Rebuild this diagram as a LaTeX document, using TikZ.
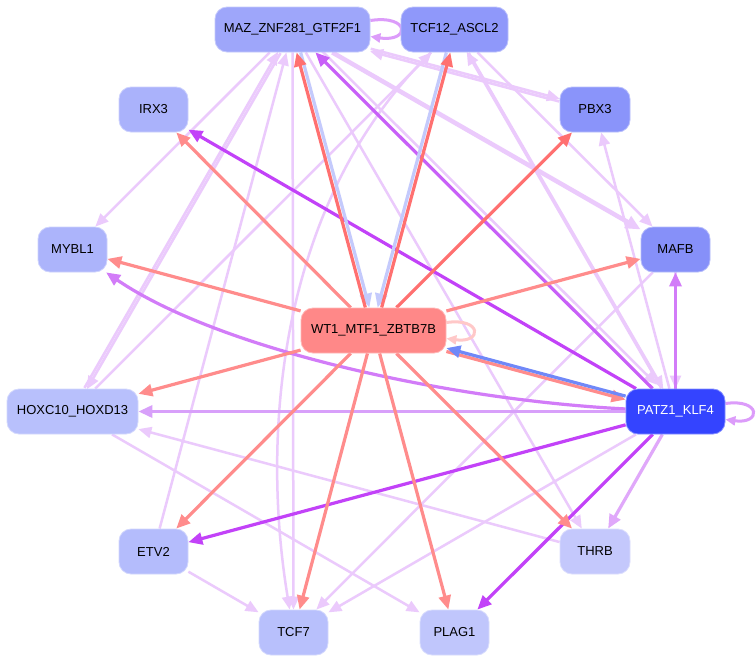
\documentclass[tikz,border=0pt]{standalone}
\usepackage{fontspec}
\setmainfont{Liberation Sans}
\usetikzlibrary{arrows.meta,backgrounds}
\definecolor{cMAZ}{RGB}{158,166,250}
\definecolor{cTCFa}{RGB}{143,152,250}
\definecolor{cIRX}{RGB}{170,178,251}
\definecolor{cPBX}{RGB}{138,148,250}
\definecolor{cMYB}{RGB}{172,180,251}
\definecolor{cMAF}{RGB}{134,144,249}
\definecolor{cWT}{RGB}{255,136,136}
\definecolor{cHOX}{RGB}{184,192,252}
\definecolor{cPAT}{RGB}{52,68,255}
\definecolor{cETV}{RGB}{180,188,252}
\definecolor{cTHR}{RGB}{196,200,252}
\definecolor{cTCFb}{RGB}{184,192,252}
\definecolor{cPLA}{RGB}{192,198,252}
\definecolor{eLil}{RGB}{235,202,252}
\definecolor{eMed}{RGB}{210,124,248}
\definecolor{eMedD}{RGB}{200,96,248}
\definecolor{eHox}{RGB}{216,160,250}
\definecolor{eThr}{RGB}{224,168,250}
\definecolor{eDark}{RGB}{194,66,248}
\definecolor{eSal}{RGB}{255,140,140}
\definecolor{eRed}{RGB}{255,112,112}
\definecolor{eLB}{RGB}{196,202,252}
\definecolor{eBlue}{RGB}{112,136,248}
\definecolor{ePink}{RGB}{255,200,200}
\definecolor{eLoop}{RGB}{220,156,250}
\begin{document}
\begin{tikzpicture}[x=1pt,y=-1pt,
  nd/.style={rounded corners=12pt, minimum height=45pt, inner sep=0pt,
    font=\fontsize{13}{15}\selectfont, draw=#1!60!white, fill=#1, line width=0.8pt},
  lil/.style={draw=eLil, line width=2.5pt, -{Triangle[length=13pt,width=11pt]}},
  lilthick/.style={draw=eLil, line width=4.5pt, -{Triangle[length=15pt,width=13pt]}},
  ed/.style={draw=#1, line width=3.2pt, -{Triangle[length=14pt,width=12pt]}},
  selfloop/.style={draw=#1, line width=3pt, -{Triangle[length=10pt,width=9pt]}}
]
\useasboundingbox (0,0) rectangle (756,662);

% nodes
\node[nd=cMAZ, minimum width=155pt] (maz) at (292.5,29.5) {MAZ\_ZNF281\_GTF2F1};
\node[nd=cTCFa, minimum width=107pt] (tcfa) at (454.5,29.5) {TCF12\_ASCL2};
\node[nd=cIRX, minimum width=69pt] (irx) at (153.5,109.5) {IRX3};
\node[nd=cPBX, minimum width=70pt] (pbx) at (595,109.5) {PBX3};
\node[nd=cMYB, minimum width=69pt] (myb) at (72.5,249.5) {MYBL1};
\node[nd=cMAF, minimum width=69pt] (maf) at (675.5,249.5) {MAFB};
\node[nd=cWT, minimum width=145pt] (wt) at (373.5,330.5) {WT1\_MTF1\_ZBTB7B};
\node[nd=cHOX, minimum width=131pt] (hox) at (72.5,411.5) {HOXC10\_HOXD13};
\node[nd=cPAT, minimum width=99pt, text=white] (pat) at (675.5,411.5) {PATZ1\_KLF4};
\node[nd=cETV, minimum width=69pt] (etv) at (153.5,551.5) {ETV2};
\node[nd=cTHR, minimum width=70pt] (thr) at (595,551.5) {THRB};
\node[nd=cTCFb, minimum width=69pt] (tcfb) at (293.5,632.5) {TCF7};
\node[nd=cPLA, minimum width=69pt] (pla) at (454.5,632.5) {PLAG1};

\begin{scope}[on background layer]
\fill[white] (0,0) rectangle (756,662);
% light lilac edges
\draw[lil] (maz) -- (myb);
\draw[lil, line width=2.6pt, transform canvas={shift={(1.2,0.7)}}] (maz) -- (hox);
\draw[lil, line width=2.6pt, transform canvas={shift={(-1.2,-0.7)}}] (hox) -- (maz);
\draw[lil] (hox) -- (tcfa);
\draw[lil] (etv) -- (maz);
\draw[lil] (maz) -- (tcfb);
\draw[lil] (tcfa) .. controls (280,200) and (260,430) .. (tcfb);
\draw[lil] (maz) -- (thr);
\draw[lilthick] (maz) -- (maf);
\draw[lil, line width=2.6pt, transform canvas={shift={(0.35,-1.3)}}] (maz) -- (pbx);
\draw[lil, line width=2.6pt, transform canvas={shift={(-0.35,1.3)}}] (pbx) -- (maz);
\draw[lil] (tcfa) -- (maf);
\draw[lil, transform canvas={shift={(1,0.5)}}] (tcfa) -- (pat);
\draw[lil, transform canvas={shift={(-1,-0.5)}}] (pat) -- (tcfa);
\draw[lil, transform canvas={shift={(4,-4)}}] (maz) -- (pat);
\draw[lil] (pat) -- (pbx);
\draw[lil] (maf) -- (pat);
\draw[lil] (maf) -- (tcfb);
\draw[lil] (pat) -- (tcfb);
\draw[lil] (thr) -- (hox);
\draw[lil] (hox) -- (pla);
\draw[lil] (etv) -- (tcfb);
% purple edges from PATZ1
\draw[ed=eMed] (pat) -- (maf);
\draw[ed=eMedD] (pat) -- (maz);
\draw[ed=eMed] (pat) .. controls (450,400) and (220,350) .. (myb);
\draw[ed=eHox] (pat) -- (hox);
\draw[ed=eThr] (pat) -- (thr);
\draw[ed=eDark] (pat) -- (irx);
\draw[ed=eDark] (pat) -- (etv);
\draw[ed=eDark] (pat) -- (pla);
% WT1 edges
\draw[ed=eSal] (wt) -- (irx);
\draw[ed=eSal] (wt) -- (myb);
\draw[ed=eSal] (wt) -- (hox);
\draw[ed=eSal] (wt) -- (etv);
\draw[ed=eSal] (wt) -- (tcfb);
\draw[ed=eSal] (wt) -- (pla);
\draw[ed=eSal] (wt) -- (thr);
\draw[ed=eSal] (wt) -- (maf);
\draw[ed=eSal, transform canvas={shift={(0,1.5)}}] (wt) -- (pat);
\draw[ed=eBlue, transform canvas={shift={(0,-2)}}] (pat) -- (wt);
\draw[ed=eRed] (wt) -- (pbx);
\draw[ed=eLB, transform canvas={shift={(2,0)}}] (maz) -- (wt);
\draw[ed=eRed, transform canvas={shift={(-2,0)}}] (wt) -- (maz);
\draw[ed=eLB, transform canvas={shift={(-2,0)}}] (tcfa) -- (wt);
\draw[ed=eRed, transform canvas={shift={(2,0)}}] (wt) -- (tcfa);
% self loops
\draw[selfloop=ePink] ([yshift=8pt]wt.east) .. controls +(36,-5) and +(36,5) .. ([yshift=-8pt]wt.east);
\draw[selfloop=eLoop] ([yshift=8pt]pat.east) .. controls +(36,-5) and +(36,5) .. ([yshift=-8pt]pat.east);
\draw[selfloop=eLoop] ([yshift=9pt]maz.east) .. controls +(40,-6) and +(40,6) .. ([yshift=-7pt]maz.east);
\end{scope}
\end{tikzpicture}
\end{document}
